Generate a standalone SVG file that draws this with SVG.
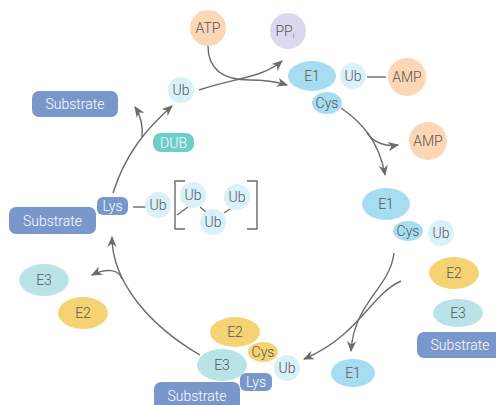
<svg xmlns="http://www.w3.org/2000/svg" width="496" height="405" viewBox="0 0 496 405">
<defs>
<style>
text{font-family:Roboto,"Liberation Sans",sans-serif;font-weight:300;font-size:14px;fill:#555;text-anchor:middle;dominant-baseline:central}
.w{fill:#fff}
.ub{fill:#d9f1f8}
.e1{fill:#a7ddf0}
.e3{fill:#bae3e8}
.e2{fill:#f5d372}
.or{fill:#fdd6b6}
.pp{fill:#dcd9ef}
.sub{fill:#7a97cb}
.dub{fill:#6dcdc9}
.ln{fill:none;stroke:#6b6b6b;stroke-width:1.4}
.ar{fill:none;stroke:#6b6b6b;stroke-width:1.4;marker-end:url(#ah)}
</style>
<marker id="ah" viewBox="0 0 10 10" refX="9" refY="5" markerWidth="11" markerHeight="11" orient="auto" markerUnits="userSpaceOnUse">
<path d="M0,0.8 L10,5 L0,9.2 L3,5 z" fill="#6b6b6b"/>
</marker>
</defs>

<g id="connectors">
<path class="ar" d="M208,46 C208,74 230,80 250,80 C265,80 277,82 287,85"/>
<path class="ar" d="M199,90 C235,78 262,78 282,61"/>
<path class="ar" d="M341,108 C360,121 379,140 385,175"/>
<path class="ar" d="M367,133 C374,143 386,147 398,145"/>
<path class="ar" d="M394,253 C390,288 354,302 351,351"/>
<path class="ar" d="M401,281 C370,295 360,335 304,359"/>
<path class="ar" d="M200,355 C150,326 112,282 112,237"/>
<path class="ar" d="M122,279 C119,269 106,268 92,275"/>
<path class="ar" d="M113,193 C125,155 145,130 172,106"/>
<path class="ar" d="M142,137 C143,126 141,116 135,107"/>
<path class="ln" d="M367,77 H386"/>
<path class="ln" d="M133,207 H147"/>
<path class="ln" d="M185,181 H175 V229 H185"/>
<path class="ln" d="M247,181 H257 V229 H247"/>
<path class="ln" d="M177,215 L188,207"/>
<path class="ln" d="M200,207 L206,212"/>
<path class="ln" d="M224,213 L230,209"/>
</g>

<g id="atp"><circle class="or" cx="208" cy="28" r="18"/><text x="208" y="28">ATP</text></g>
<g id="ppi"><circle class="pp" cx="288" cy="31" r="18"/><text x="285" y="31">PP<tspan font-size="8" dy="4">i</tspan></text></g>
<g id="ub-top"><circle class="ub" cx="181" cy="90" r="13"/><text x="181" y="90">Ub</text></g>
<g id="e1-top"><ellipse class="e1" cx="312" cy="76" rx="24" ry="15"/><text x="312" y="76">E1</text></g>
<g id="cys-top"><ellipse class="e1" cx="327" cy="103" rx="15" ry="11"/><text x="327" y="103">Cys</text></g>
<g id="ub-e1"><circle class="ub" cx="353" cy="76" r="13"/><text x="353" y="76">Ub</text></g>
<g id="amp-top"><circle class="or" cx="407" cy="77" r="19"/><text x="407" y="77">AMP</text></g>
<g id="amp-mid"><circle class="or" cx="428" cy="141" r="19"/><text x="428" y="141">AMP</text></g>
<g id="e1-mid"><ellipse class="e1" cx="386" cy="204" rx="24" ry="16"/><text x="386" y="204">E1</text></g>
<g id="cys-mid"><ellipse class="e1" cx="408" cy="231" rx="15" ry="10"/><text x="408" y="231">Cys</text></g>
<g id="ub-mid"><circle class="ub" cx="441" cy="233" r="13"/><text x="441" y="233">Ub</text></g>

<g id="e2-right"><ellipse class="e2" cx="454" cy="273" rx="25" ry="16"/><text x="454" y="273">E2</text></g>
<g id="e3-right"><ellipse class="e3" cx="458" cy="313" rx="25" ry="14"/><text x="458" y="313">E3</text></g>
<g id="substrate-right"><rect class="sub" x="417" y="332" width="90" height="26" rx="7"/><text class="w" x="460" y="345">Substrate</text></g>
<g id="e1-bottom"><ellipse class="e1" cx="353" cy="373" rx="22" ry="14"/><text x="353" y="373">E1</text></g>

<g id="e2-bottom"><ellipse class="e2" cx="235" cy="332" rx="25" ry="15"/><text x="235" y="332">E2</text></g>
<g id="e3-bottom"><ellipse class="e3" cx="222" cy="365" rx="25" ry="16"/><text x="222" y="365">E3</text></g>
<g id="cys-bottom"><ellipse class="e2" cx="263" cy="352" rx="15" ry="10"/><text x="263" y="352">Cys</text></g>
<g id="substrate-bottom"><rect class="sub" x="154" y="382" width="86" height="30" rx="7"/><text class="w" x="197" y="396">Substrate</text></g>
<g id="lys-bottom"><rect class="sub" x="240" y="373" width="32" height="18" rx="6"/><text class="w" x="256" y="382">Lys</text></g>
<g id="ub-bottom"><circle class="ub" cx="287" cy="368" r="13"/><text x="287" y="368">Ub</text></g>

<g id="e3-left"><ellipse class="e3" cx="44" cy="280" rx="25" ry="16"/><text x="44" y="280">E3</text></g>
<g id="e2-left"><ellipse class="e2" cx="83" cy="313" rx="25" ry="16"/><text x="83" y="313">E2</text></g>

<g id="substrate-top"><rect class="sub" x="32" y="91" width="86" height="26" rx="7"/><text class="w" x="75" y="104">Substrate</text></g>
<g id="dub"><rect class="dub" x="153" y="133" width="41" height="19" rx="8"/><text class="w" x="173.5" y="142.5">DUB</text></g>
<g id="substrate-left"><rect class="sub" x="9" y="207" width="87" height="27" rx="7"/><text class="w" x="52.5" y="220.5">Substrate</text></g>
<g id="lys-left"><rect class="sub" x="97" y="197" width="31" height="18" rx="6"/><text class="w" x="112.5" y="206">Lys</text></g>
<g id="ub-left"><circle class="ub" cx="158" cy="205" r="13"/><text x="158" y="205">Ub</text></g>
<g id="ub-chain-1"><circle class="ub" cx="193" cy="195" r="13"/><text x="193" y="195">Ub</text></g>
<g id="ub-chain-2"><circle class="ub" cx="237" cy="197" r="13"/><text x="237" y="197">Ub</text></g>
<g id="ub-chain-3"><circle class="ub" cx="213" cy="222" r="13"/><text x="213" y="222">Ub</text></g>
</svg>
